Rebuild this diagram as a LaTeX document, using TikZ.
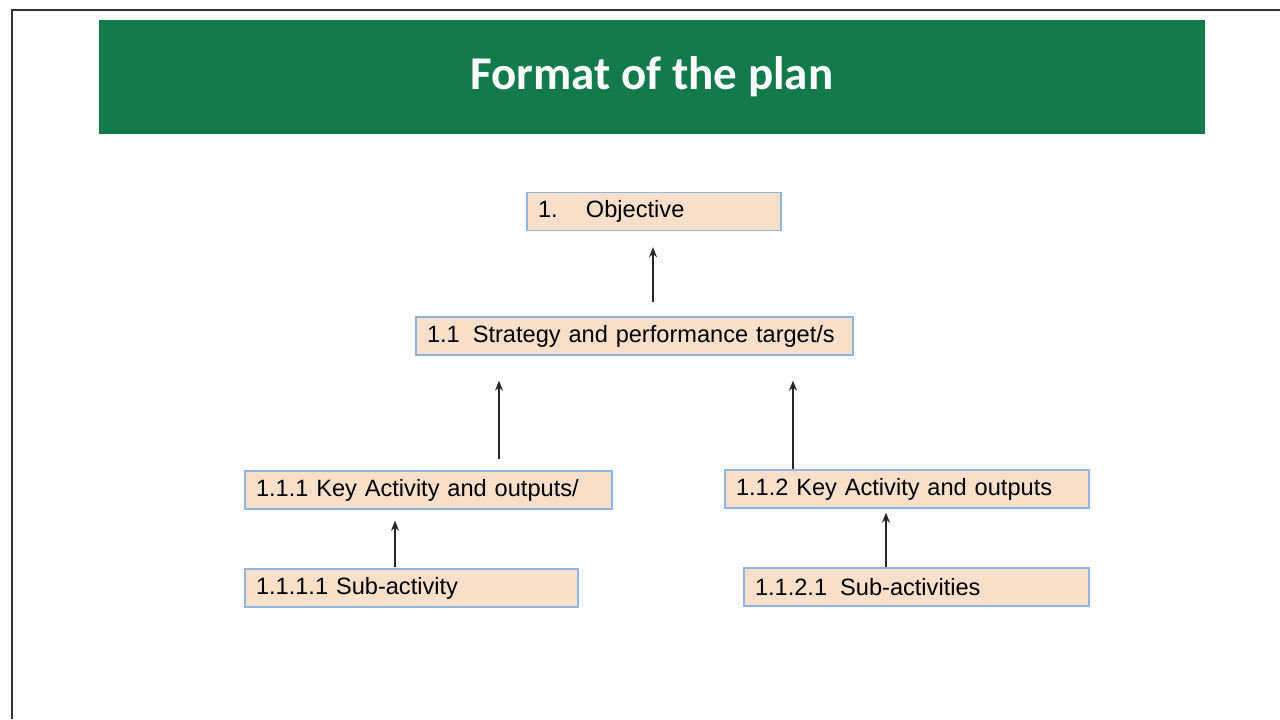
\documentclass[tikz,border=0pt]{standalone}
\usepackage{fontspec}
\setmainfont{Liberation Sans}
\newfontfamily\titlefont{Carlito}
\usepackage{tikz}
\usetikzlibrary{arrows.meta}

\definecolor{bannergreen}{RGB}{19,122,76}
\definecolor{boxfill}{RGB}{248,223,202}
\definecolor{boxline}{RGB}{141,180,226}

\tikzset{
  planbox/.style={draw=boxline, fill=boxfill, line width=0.7pt, minimum height=19pt,
    inner xsep=5.5pt, inner ysep=0pt, align=left, font=\fontsize{11.8pt}{14pt}\selectfont},
  uparrow/.style={draw=black!85, line width=0.7pt, -{Stealth[length=5pt,width=4pt]}},
}

\begin{document}
\begin{tikzpicture}[x=0.5pt,y=-0.5pt]
\useasboundingbox (0,0) rectangle (1280,719);

% frame and heading
\draw [black!80, line width=1.2pt] (1280,10) -- (12,10) -- (12,719);
\path (652,77) node (banner) [fill=bannergreen, minimum width=553pt, minimum height=57pt, text=white,
		font=\titlefont\bfseries\fontsize{23.5pt}{28pt}\selectfont] {Format of the plan};

\path (654,211.5) node (obj) [planbox, text width=116pt] {1.\hspace{1.2em}Objective}
		(634.5,336) node (strat) [planbox, text width=207.5pt] {1.1\hspace{0.55em}Strategy and performance target/s}
		(428.5,490) node (kaa) [planbox, text width=172.5pt] {1.1.1 Key Activity and outputs/}
		(907,489) node (kab) [planbox, text width=171pt] {1.1.2 Key Activity and outputs}
		(411.5,588) node (suba) [planbox, text width=155.5pt] {1.1.1.1 Sub-activity}
		(916.5,587) node (subb) [planbox, text width=161.5pt] {1.1.2.1\hspace{0.55em}Sub-activities}
		;

\draw [uparrow, shorten <=7pt, shorten >=8pt] ([xshift=9.25pt]strat.north) -- ([xshift=9.25pt]strat.north |- obj.south);
\draw [uparrow, shorten <=5.5pt, shorten >=12.5pt] ([xshift=35.25pt]kaa.north) -- ([xshift=35.25pt]kaa.north |- strat.south);
\draw [uparrow, shorten >=12.5pt] ([xshift=-57pt]kab.north) -- ([xshift=-57pt]kab.north |- strat.south);
\draw [uparrow, shorten <=0.5pt, shorten >=5.5pt] ([xshift=-8.25pt]suba.north) -- ([xshift=-8.25pt]suba.north |- kaa.south);
\draw [uparrow, shorten >=2pt] ([xshift=-15.25pt]subb.north) -- ([xshift=-15.25pt]subb.north |- kab.south);
\end{tikzpicture}
\end{document}
